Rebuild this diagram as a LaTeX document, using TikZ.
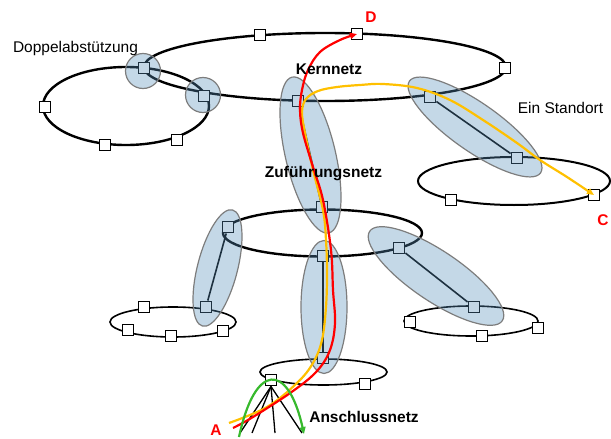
\documentclass[tikz,border=0pt]{standalone}
\usepackage{fontspec}
\setmainfont{Liberation Sans}
\usetikzlibrary{shapes.geometric}
\usetikzlibrary{arrows.meta}

\definecolor{hlblue}{RGB}{86,143,186}
\definecolor{hlborder}{RGB}{125,125,125}
\definecolor{pathred}{RGB}{255,0,0}
\definecolor{pathyellow}{RGB}{255,192,0}
\definecolor{pathgreen}{RGB}{55,185,45}

\begin{document}
\begin{tikzpicture}[x=1pt, y=-1pt,
  sq/.style={draw=black, fill=white, line width=1.9pt, minimum size=11pt, inner sep=0pt},
  ring/.style={draw=black, line width=2.4pt},
  smallring/.style={draw=black, line width=1.6pt},
  link/.style={draw=black, line width=1.6pt},
  fan/.style={draw=black, line width=1.3pt},
  hl/.style={ellipse, draw=hlborder, line width=1.2pt, fill=hlblue, fill opacity=0.35, inner sep=0pt},
  route/.style={line width=2.2pt, -{Triangle[length=7pt, width=6pt]}},
  lbl/.style={anchor=base, inner sep=0pt, font=\fontsize{15.5}{18}\selectfont},
  blbl/.style={lbl, font=\fontsize{15.5}{18}\selectfont\bfseries},
  rlbl/.style={blbl, text=pathred}]
  \useasboundingbox (0,0) rectangle (611,439);

  % rings
  \draw[ring] (325,67) ellipse [x radius=181pt, y radius=34pt];
  \draw[ring] (126,106) ellipse [x radius=83pt, y radius=39pt];
  \draw[ring] (322.5,233) ellipse [x radius=99.5pt, y radius=23.5pt];
  \draw[ring, line width=2pt] (514,181) ellipse [x radius=96pt, y radius=24pt];
  \draw[smallring] (173,322) ellipse [x radius=63pt, y radius=15pt];
  \draw[smallring] (471,321) ellipse [x radius=67pt, y radius=15pt];
  \draw[smallring] (323.5,372) ellipse [x radius=63.5pt, y radius=13pt];

  % Kernnetz
  \node[sq] (d1) at (144,68) {};
  \node[sq] (d2) at (204,96) {};
  \node[sq] (k2) at (260,35) {};
  \node[sq] (k3) at (357,34) {};
  \node[sq] (k4) at (505,68) {};
  \node[sq] (k5) at (430,97) {};
  \node[sq] (k6) at (298,101) {};
  \node[sq] (l1) at (45,107) {};
  \node[sq] (l2) at (105,145) {};
  \node[sq] (l3) at (177,140) {};
  \node[sq] (r1) at (517,158) {};
  \node[sq] (r2) at (451,200) {};
  \node[sq] (r3) at (594,195) {};

  % Zufuehrungsnetz
  \node[sq] (z1) at (228,227) {};
  \node[sq] (z2) at (322,207) {};
  \node[sq] (z3) at (323,256) {};
  \node[sq] (z4) at (399,248) {};
  \node[sq] (a1) at (144,307) {};
  \node[sq] (a2) at (206,307) {};
  \node[sq] (a3) at (128,330) {};
  \node[sq] (a4) at (171,336) {};
  \node[sq] (a5) at (223,331) {};
  \node[sq] (b1) at (474,307) {};
  \node[sq] (b2) at (410,322) {};
  \node[sq] (b3) at (482,336) {};
  \node[sq] (b4) at (538,328) {};

  % Anschlussnetz
  \node[sq] (s1) at (323,358) {};
  \node[sq] (s2) at (271,380) {};
  \node[sq] (s3) at (365,384) {};

  \draw[link] (k6) -- (z2);
  \draw[link] (k5) -- (r1);
  \draw[link] (z1) -- (a2);
  \draw[link] (z3) -- (s1);
  \draw[link] (z4) -- (b1);

  \foreach \x [count=\i] in {240,252,275,302}
    \coordinate (f\i) at (\x,433);
  \foreach \i in {1,...,4}
    \draw[fan] (s2.south) -- (f\i);

  % highlights
  \node[hl, circle, minimum size=35pt] (h1) at (143,71) {};
  \node[hl, circle, minimum size=35pt] (h2) at (203,95) {};
  \node[hl, minimum width=160pt, minimum height=50pt, rotate=-76.7] (h3) at (310.5,155) {};
  \node[hl, minimum width=120pt, minimum height=40pt, rotate=-104.5] (h4) at (217.5,268) {};
  \node[hl, minimum width=46pt, minimum height=133pt] (h5) at (324,307) {};
  \node[hl, minimum width=160pt, minimum height=50pt, rotate=-34] (h6) at (436,276) {};
  \node[hl, minimum width=160pt, minimum height=48pt, rotate=-35] (h7) at (475,127) {};

  % routes
  \coordinate (ya) at (229,423);
  \coordinate (ra) at (233,428);
  \coordinate (g1) at (239,437);
  \coordinate (g2) at (304,434);
  \draw[route, pathyellow] plot[smooth, tension=0.6] coordinates {(ya) (267,407) (297,383) (313,363) (322,340) (326,307) (327,273) (326,240) (323,210) (313,170) (305,133) (302,112) (306,99) (318,91) (337,87) (360,85) (383,84) (417,88) (450,100) (483,120) (517,143) (540,160) (567,177) (r3.center)};
  \draw[route, pathred] plot[smooth, tension=0.6] coordinates {(ra) (253,417) (293,391) (317,371) (330,350) (335,323) (333,290) (331,250) (323,200) (313,167) (303,133) (300,110) (302,90) (308,70) (320,52) (340,40) (k3.center)};
  \draw[route, pathgreen] (g1) .. controls (255,362) and (288,362) .. (g2);

  % labels
  \node[lbl] (tdop) at (75.5,52) {Doppelabstützung};
  \node[lbl] (tein) at (560.5,113) {Ein Standort};
  \node[blbl] (tkern) at (329,74) {Kernnetz};
  \node[blbl] (tzuf) at (323.5,177) {Zuführungsnetz};
  \node[blbl] (tan) at (364,422) {Anschlussnetz};
  \node[rlbl] (tD) at (371,23) {D};
  \node[rlbl] (tC) at (603,225) {C};
  \node[rlbl] (tA) at (216,435) {A};
\end{tikzpicture}
\end{document}
